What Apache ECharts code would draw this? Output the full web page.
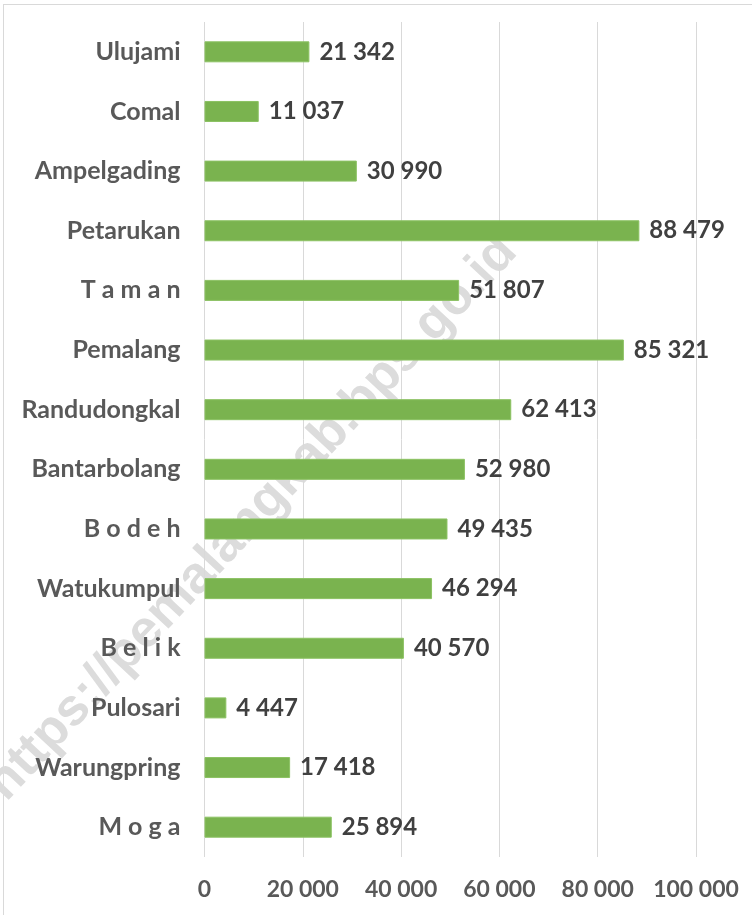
<!DOCTYPE html>
<html>
<head>
<meta charset="utf-8">
<script src="https://cdn.jsdelivr.net/npm/echarts@6/dist/echarts.min.js"></script>
<style>
  html, body { margin: 0; padding: 0; background: #fff; }
  #frame {
    position: absolute; left: 3px; top: 4px; width: 749px; height: 911px;
    border-left: 1px solid #d9d9d9; border-top: 1px solid #d9d9d9;
  }
  #chart { position: absolute; left: 0; top: 0; width: 752px; height: 915px; }
</style>
</head>
<body>
<div id="frame"></div>
<div id="chart"></div>
<script>
const districts = ['Ulujami', 'Comal', 'Ampelgading', 'Petarukan', 'T a m a n', 'Pemalang', 'Randudongkal',
  'Bantarbolang', 'B o d e h', 'Watukumpul', 'B e l i k', 'Pulosari', 'Warungpring', 'M o g a']
const values = [21342, 11037, 30990, 88479, 51807, 85321, 62413, 52980, 49435, 46294, 40570, 4447, 17418, 25894]
const axisTicks = [0, 20000, 40000, 60000, 80000, 100000]
const watermark = 'https://pemalangkab.bps.go.id'

const fmt = (v) => String(v).replace(/\B(?=(\d{3})+(?!\d))/g, ' ')

const chart = echarts.init(document.getElementById('chart'), null, { renderer: 'canvas' })

chart.setOption({
  animation: false,
  grid: { left: 204.5, right: 56, top: 22, bottom: 58, containLabel: false },
  graphic: [
    {
      type: 'text',
      z: -10,
      x: 252,
      y: 518,
      rotation: 0.82,
      style: {
        text: watermark,
        font: 'bold 52px "Liberation Sans", Arial, sans-serif',
        fill: '#dcdcdc',
        align: 'center',
        verticalAlign: 'middle',
      },
    },
  ],
  xAxis: {
    type: 'value',
    min: axisTicks[0],
    max: axisTicks[axisTicks.length - 1],
    interval: 20000,
    axisLine: { show: false },
    axisTick: { show: false },
    splitLine: { lineStyle: { color: '#d9d9d9', width: 1 } },
    axisLabel: {
      margin: 21,
      color: '#595959',
      fontFamily: 'Lato, sans-serif',
      fontWeight: 'bold',
      fontSize: 23,
      formatter: (v) => fmt(v),
    },
  },
  yAxis: {
    type: 'category',
    inverse: true,
    data: districts,
    axisLine: { show: false },
    axisTick: { show: false },
    axisLabel: {
      margin: 24,
      color: '#595959',
      fontFamily: 'Lato, sans-serif',
      fontWeight: 'bold',
      fontSize: 25,
    },
  },
  series: [
    {
      type: 'bar',
      z: 3,
      data: values,
      barWidth: 21,
      itemStyle: { color: '#7ab34f', borderColor: '#8cc263', borderWidth: 1 },
      label: {
        show: true,
        position: 'right',
        distance: 10,
        color: '#404040',
        fontFamily: 'Lato, sans-serif',
        fontWeight: 'bold',
        fontSize: 24,
        formatter: (p) => fmt(p.value),
      },
    },
  ],
})
</script>
</body>
</html>
